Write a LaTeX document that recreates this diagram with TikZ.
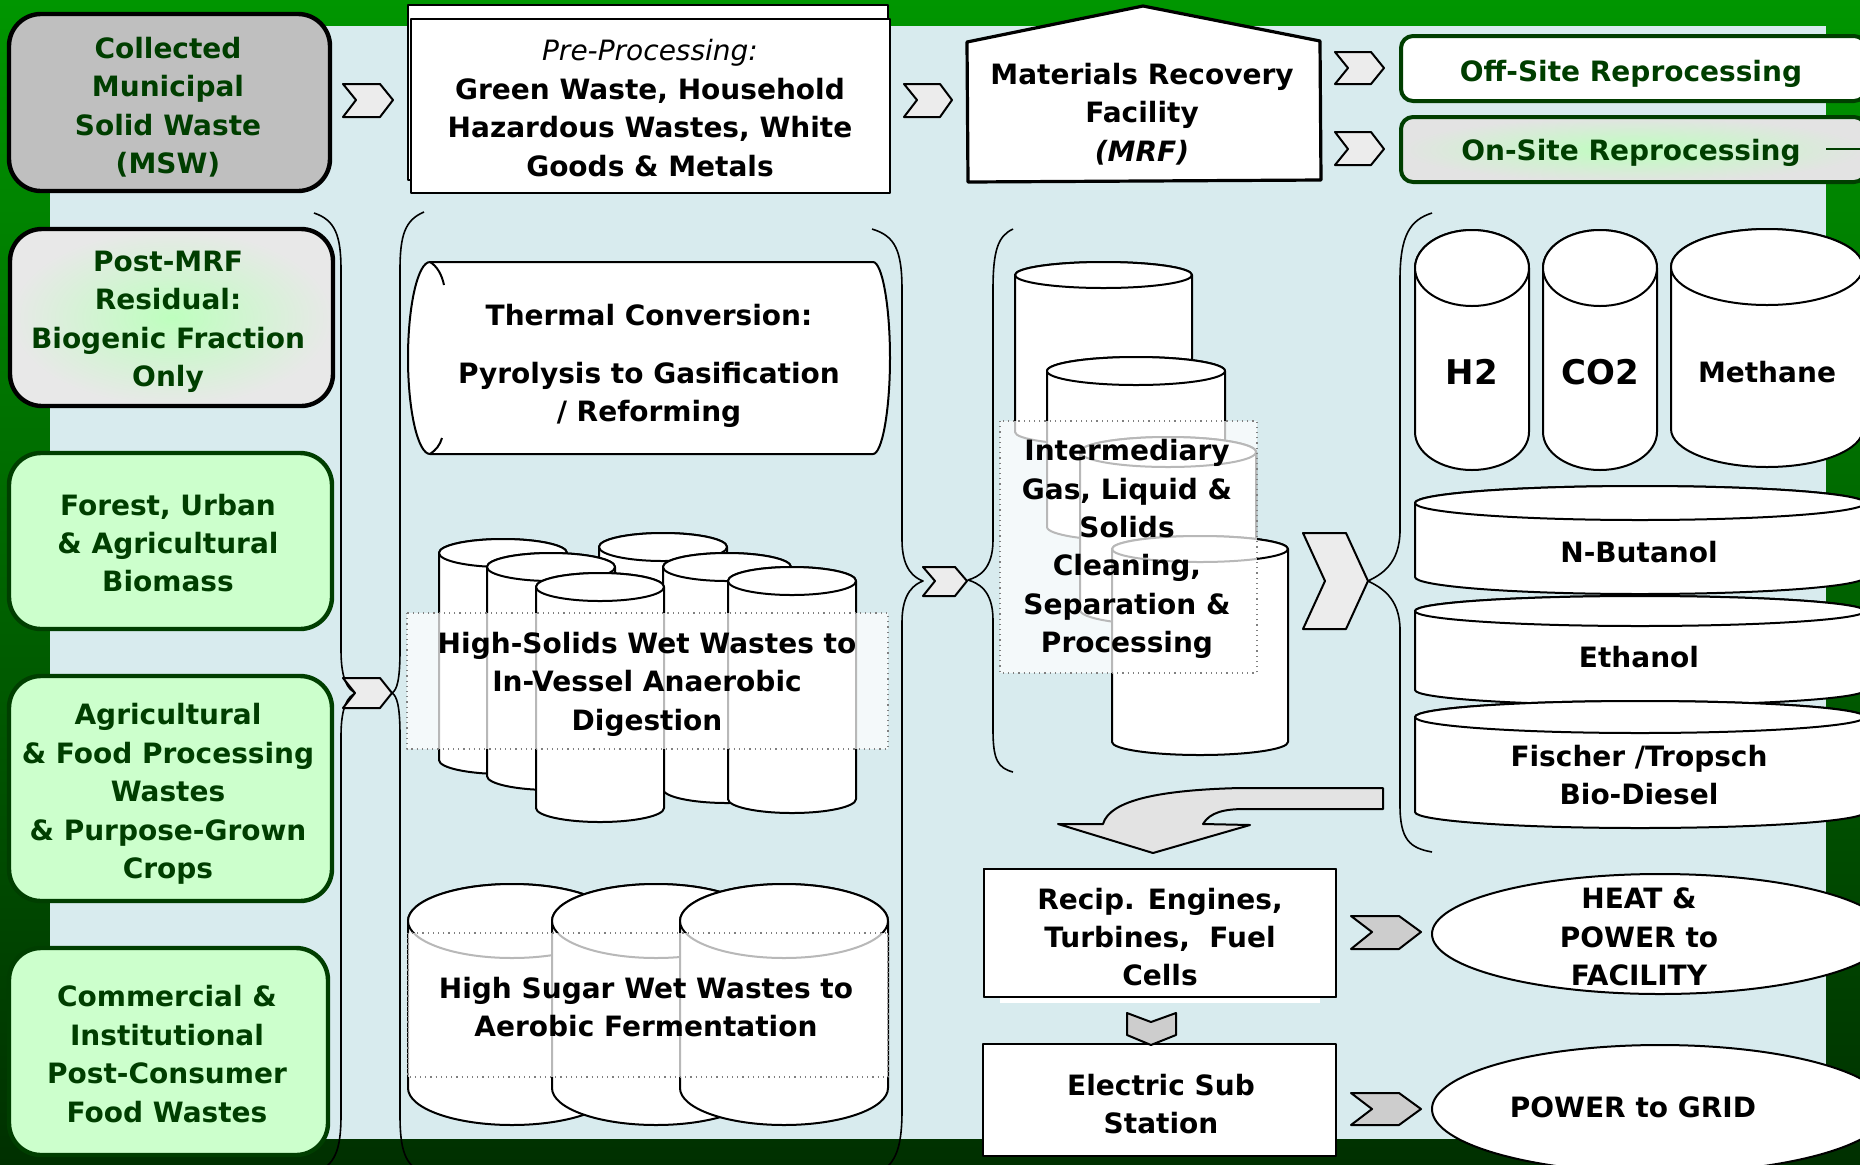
\documentclass[tikz,border=0pt]{standalone}
\usepackage{fontspec}
\setmainfont{DejaVu Sans}
\definecolor{gtop}{RGB}{0,150,0}
\definecolor{gbot}{RGB}{0,48,0}
\definecolor{panel}{RGB}{216,235,238}
\definecolor{dg}{RGB}{0,62,0}
\definecolor{lgreen}{RGB}{204,255,204}
\definecolor{glow}{RGB}{190,255,190}
\definecolor{msw}{RGB}{191,191,191}
\definecolor{chev}{RGB}{236,236,236}
\definecolor{chevd}{RGB}{205,205,205}
\newcommand\Cyl[5]{%
 \filldraw[cylline] ({#1-#4},#2) -- ({#1-#4},#3) arc[start angle=180,end angle=360,x radius={#4*0.5pt},y radius={#5*0.5pt}] -- ({#1+#4},#2) arc[start angle=0,end angle=180,x radius={#4*0.5pt},y radius={#5*0.5pt}] -- cycle;
 \draw[cylline] (#1,#2) ellipse [x radius={#4*0.5pt}, y radius={#5*0.5pt}];
}
\tikzset{
 txt/.style={font={\fontsize{14}{19.2}\selectfont\bfseries}, align=center, inner sep=0pt},
 gtxt/.style={txt, text=dg},
 cylline/.style={fill=white, draw=black, line width=1pt},
 leftbox/.style={draw=dg, line width=2.2pt, rounded corners=16pt},
 chevron/.style={fill=chev, draw=black, line width=1pt},
 chevrond/.style={fill=chevd, draw=black, line width=1pt},
 bracel/.style={draw=black, line width=0.8pt},
 overlay/.style={fill=white, fill opacity=0.72, draw=gray, dotted, line width=0.6pt},
}
\begin{document}
\begin{tikzpicture}[x=0.5pt, y=-0.5pt, line join=round]
\useasboundingbox (0,0) rectangle (1860,1164);
\clip (0,0) rectangle (1860,1164);
% background
\shade[top color=gtop, bottom color=gbot] (0,0) rectangle (1860,1164);
\fill[panel] (50,26) rectangle (1826,1139);

% braces
\draw[bracel] (314,213) .. controls (335,220) and (341,235) .. (341,270) -- (341,650) .. controls (341,680) and (348,690) .. (356,693) .. controls (348,696) and (341,706) .. (341,736) -- (341,1115) .. controls (341,1150) and (335,1166) .. (314,1173);
\draw[bracel] (424,212) .. controls (405,220) and (400,235) .. (400,270) -- (400,650) .. controls (400,680) and (397,690) .. (392,693) .. controls (397,696) and (400,706) .. (400,736) -- (400,1115) .. controls (400,1150) and (405,1166) .. (424,1173);
\draw[bracel] (872,229) .. controls (895,236) and (902,250) .. (902,290) -- (902,540) .. controls (902,570) and (915,578) .. (923,581) .. controls (915,584) and (902,592) .. (902,622) -- (902,1110) .. controls (902,1150) and (895,1168) .. (872,1175);
\draw[bracel] (1013,229) .. controls (998,236) and (993,250) .. (993,290) -- (993,540) .. controls (993,570) and (978,577) .. (968,580) .. controls (978,583) and (993,590) .. (993,620) -- (993,730) .. controls (993,760) and (998,768) .. (1013,772);
\draw[bracel] (1432,213) .. controls (1410,220) and (1400,235) .. (1400,280) -- (1400,530) .. controls (1400,565) and (1380,575) .. (1368,581) .. controls (1380,587) and (1400,597) .. (1400,630) -- (1400,805) .. controls (1400,840) and (1410,848) .. (1432,852);

% left column
\filldraw[leftbox, draw=black, fill=msw] (9,14) rectangle (330,191);
\node[gtxt] (msw) at (168,107) {Collected\\Municipal\\Solid Waste\\(MSW)};
\shadedraw[leftbox, draw=black, inner color=glow, outer color=gray!18] (10,229) rectangle (333,406);
\node[gtxt] (postmrf) at (168,322) {Post-MRF\\Residual:\\Biogenic Fraction\\Only};
\filldraw[leftbox, fill=lgreen] (9,453) rectangle (332,629);
\node[gtxt] (forest) at (168,543) {Forest, Urban\\\& Agricultural\\Biomass};
\filldraw[leftbox, fill=lgreen] (9,676) rectangle (332,901);
\node[gtxt] (agri) at (168,794) {Agricultural\\\& Food Processing\\Wastes\\\& Purpose-Grown\\Crops};
\filldraw[leftbox, fill=lgreen] (9,948) rectangle (328,1155);
\node[gtxt] (comm) at (167,1054) {Commercial \&\\Institutional\\Post-Consumer\\Food Wastes};

% pre-processing
\filldraw[fill=white, draw=black, line width=1pt] (408,5) rectangle (888,180);
\filldraw[fill=white, draw=black, line width=1pt] (411,19) rectangle (890,193);
\node[txt] (prep) at (650,108) {{\mdseries\itshape Pre-Processing:}\\Green Waste, Household\\Hazardous Wastes, White\\Goods \& Metals};

% MRF house
\filldraw[fill=white, draw=black, line width=1.6pt] (1143,6) -- (1320,41) -- (1321,180) -- (968,182) -- (967,42) -- cycle;
\node[txt] (mrf) at (1142,114) {Materials Recovery\\Facility\\{\itshape (MRF)}};

% off/on site
\filldraw[fill=white, draw=dg, line width=2pt, rounded corners=6pt] (1401,36) rectangle (1866,101);
\node[gtxt] (offsite) at (1631,74) {Off-Site Reprocessing};
\shadedraw[draw=dg, line width=2pt, rounded corners=6pt, inner color=glow, outer color=gray!22] (1401,117) rectangle (1866,182);
\node[gtxt] (onsite) at (1631,153) {On-Site Reprocessing};
\draw[dg, line width=0.8pt] (1826,149) -- (1860,149);

% thermal conversion
\filldraw[fill=white, draw=black, line width=1pt] (430,262) -- (873,262) .. controls (882,262) and (890,305) .. (890,358) .. controls (890,411) and (882,454) .. (873,454) -- (430,454) .. controls (418,454) and (408,411) .. (408,358) .. controls (408,305) and (418,262) .. (430,262) -- cycle;
\draw[line width=1pt] (430,262) .. controls (437,266) and (442,275) .. (444,285);
\draw[line width=1pt] (430,454) .. controls (436,450) and (440,445) .. (442,438);
\node[txt] (thermal) at (649,366) {Thermal Conversion:\\[9.6pt]Pyrolysis to Gasification\\/ Reforming};

% high-solids digesters
\Cyl{503}{553}{760}{64}{14}
\Cyl{663}{547}{772}{64}{14}
\Cyl{551}{567}{776}{64}{14}
\Cyl{727}{567}{789}{64}{14}
\Cyl{600}{587}{808}{64}{14}
\Cyl{792}{581}{799}{64}{14}
\filldraw[overlay] (407,613) rectangle (888,749);
\node[txt] (hisolids) at (647,684) {High-Solids Wet Wastes to\\In-Vessel Anaerobic\\Digestion};

% high sugar tanks
\Cyl{512}{921}{1088}{104}{37}
\Cyl{656}{921}{1088}{104}{37}
\Cyl{784}{921}{1088}{104}{37}
\filldraw[overlay] (408,933) rectangle (888,1077);
\node[txt] (hisugar) at (646,1007) {High Sugar Wet Wastes to\\Aerobic Fermentation};

% intermediary
\Cyl{1103.5}{275}{432}{88.5}{13}
\Cyl{1136}{371}{527}{89}{14}
\Cyl{1168}{452}{610}{88}{15}
\Cyl{1200}{549}{742}{88}{13}
\filldraw[overlay] (1000,421) rectangle (1257,673);
\node[txt] (inter) at (1127,549) {Intermediary\\Gas, Liquid \&\\Solids\\Cleaning,\\Separation \&\\Processing};

% products
\Cyl{1472}{268}{432}{57}{38}
\Cyl{1600}{268}{432}{57}{38}
\Cyl{1767}{267}{429}{96}{38}
\node[txt, font={\fontsize{17}{20}\selectfont\bfseries}] (h2) at (1472,372) {H2};
\node[txt, font={\fontsize{17}{20}\selectfont\bfseries}] (co2) at (1600,372) {CO2};
\node[txt] (methane) at (1767,372) {Methane};
\Cyl{1640}{503}{577}{225}{17}
\node[txt] (butanol) at (1639,552) {N-Butanol};
\Cyl{1640}{611}{690}{225}{15}
\node[txt] (ethanol) at (1639,657) {Ethanol};
\Cyl{1640}{717}{812}{225}{16}
\node[txt] (fischer) at (1639,775) {Fischer /Tropsch\\Bio-Diesel};

% curved arrow
\filldraw[fill=gray!22, draw=black, line width=1pt] (1383,788) -- (1240,788) .. controls (1160,790) and (1110,800) .. (1103,824) -- (1058,824) -- (1153,853) -- (1250,825) -- (1203,824) .. controls (1210,812) and (1225,809) .. (1245,809) -- (1383,809) -- cycle;

% recip and substation
\filldraw[fill=white, draw=black, line width=1pt] (984,869) rectangle (1336,997);
\fill[white] (1000,875) rectangle (1320,1003);
\draw[black, line width=1pt] (984,869) rectangle (1336,997);
\node[txt] (recip) at (1160,937) {Recip. Engines,\\Turbines,\ \ Fuel\\Cells};
\filldraw[fill=white, draw=black, line width=1pt] (983,1044) rectangle (1336,1156);
\node[txt] (substation) at (1161,1104) {Electric Sub\\Station};

% outputs
\filldraw[fill=white, draw=black, line width=1pt] (1660,934) ellipse [x radius=114pt, y radius=30pt];
\node[txt] (heat) at (1639,937) {HEAT \&\\POWER to\\FACILITY};
\filldraw[fill=white, draw=black, line width=1pt] (1660,1109) ellipse [x radius=114pt, y radius=32pt];
\node[txt] (grid) at (1633,1107) {POWER to GRID};

% chevrons
\filldraw[chevron] (343,84) -- (380,84) -- (393,100) -- (380,117) -- (343,117) -- (356,100) -- cycle;
\filldraw[chevron] (904,84) -- (940,84) -- (952,100) -- (940,117) -- (904,117) -- (917,100) -- cycle;
\filldraw[chevron] (1335,52) -- (1371,52) -- (1384,68) -- (1371,84) -- (1335,84) -- (1348,68) -- cycle;
\filldraw[chevron] (1335,132) -- (1371,132) -- (1384,149) -- (1371,165) -- (1335,165) -- (1348,149) -- cycle;
\filldraw[chevron] (343,678) -- (380,678) -- (392,693) -- (380,708) -- (343,708) -- (355,693) -- cycle;
\filldraw[chevron] (923,567) -- (955,567) -- (967,581) -- (955,596) -- (923,596) -- (935,581) -- cycle;
\filldraw[chevron] (1303,533) -- (1346,533) -- (1368,581) -- (1346,629) -- (1303,629) -- (1325,581) -- cycle;
\filldraw[chevrond] (1127,1013) -- (1151,1022) -- (1176,1013) -- (1176,1035) -- (1151,1045) -- (1127,1035) -- cycle;
\filldraw[chevrond] (1351,916) -- (1399,916) -- (1421,932) -- (1399,949) -- (1351,949) -- (1372,932) -- cycle;
\filldraw[chevrond] (1351,1093) -- (1399,1093) -- (1421,1109) -- (1399,1125) -- (1351,1125) -- (1372,1109) -- cycle;
\end{tikzpicture}
\end{document}
